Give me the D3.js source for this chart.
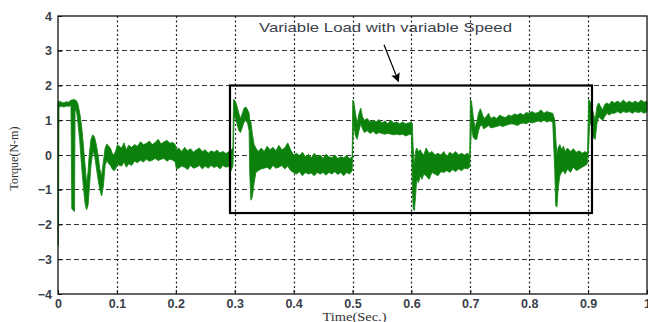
<!DOCTYPE html>
<html>
<head>
<meta charset="utf-8">
<script src="https://cdn.jsdelivr.net/npm/d3@7"></script>
<style>
  body { margin: 0; background: #fff; }
  svg { display: block; }
</style>
</head>
<body>
<svg width="648" height="322"></svg>
<script>
// time axis (sec) and the noisy torque envelope
const time = [0, 0.0008, 0.0016, 0.006, 0.010, 0.014, 0.018, 0.022, 0.0235, 0.028, 0.029, 0.032,
  0.034, 0.037, 0.040, 0.043, 0.046, 0.0485, 0.051, 0.053, 0.056, 0.059, 0.062, 0.065, 0.068, 0.071,
  0.074, 0.077, 0.080, 0.083, 0.086, 0.089, 0.092, 0.095, 0.098, 0.101, 0.104,
  0.108, 0.112, 0.116, 0.120, 0.125, 0.130, 0.135, 0.140, 0.145, 0.150, 0.155, 0.160, 0.165, 0.170,
  0.175, 0.180, 0.185, 0.190, 0.195, 0.199, 0.201, 0.205, 0.210, 0.215, 0.220, 0.225, 0.230, 0.235,
  0.240, 0.245, 0.250, 0.255, 0.260, 0.265, 0.270, 0.275, 0.280, 0.285, 0.290, 0.294, 0.297,
  0.298, 0.2985, 0.301, 0.304, 0.307, 0.310, 0.313, 0.316, 0.319, 0.322, 0.3245, 0.3255, 0.3275,
  0.330, 0.333, 0.336, 0.340, 0.345, 0.350, 0.355, 0.360, 0.365, 0.370, 0.375, 0.380, 0.385, 0.390,
  0.395, 0.400, 0.405, 0.410, 0.415, 0.420, 0.425, 0.430, 0.435, 0.440, 0.445, 0.450, 0.455, 0.460,
  0.465, 0.470, 0.475, 0.480, 0.485, 0.490, 0.495, 0.4995,
  0.5005, 0.502, 0.505, 0.508, 0.511, 0.514, 0.517, 0.520, 0.525, 0.530, 0.535, 0.540, 0.545, 0.550,
  0.555, 0.560, 0.565, 0.570, 0.575, 0.580, 0.585, 0.590, 0.595, 0.600,
  0.6015, 0.603, 0.605, 0.607, 0.609, 0.612, 0.615, 0.618, 0.621, 0.625, 0.630, 0.635, 0.640, 0.645,
  0.650, 0.655, 0.660, 0.665, 0.670, 0.675, 0.680, 0.685, 0.690, 0.695, 0.699,
  0.7003, 0.702, 0.705, 0.708, 0.711, 0.714, 0.717, 0.720, 0.723, 0.727, 0.731, 0.735, 0.740, 0.745,
  0.750, 0.755, 0.760, 0.765, 0.770, 0.775, 0.780, 0.785, 0.790, 0.795, 0.800, 0.805, 0.810, 0.815,
  0.820, 0.825, 0.830, 0.835, 0.840,
  0.8435, 0.845, 0.847, 0.849, 0.852, 0.855, 0.858, 0.861, 0.865, 0.870, 0.875, 0.880, 0.885, 0.890,
  0.895, 0.899,
  0.901, 0.903, 0.906, 0.909, 0.912, 0.915, 0.918, 0.921, 0.925, 0.928, 0.932, 0.936, 0.940, 0.945,
  0.950, 0.955, 0.960, 0.965, 0.970, 0.975, 0.980, 0.985, 0.990, 0.995, 1.000];

const torqueHigh = [1.5, 1.52, 1.55, 1.52, 1.50, 1.53, 1.52, 1.58, 1.58, 1.60, 1.58, 1.55,
  1.45, 1.2, 0.85, 0.3, -0.3, -0.8, -0.5, 0.0, 0.45, 0.58, 0.52, 0.3, 0.0, -0.4,
  -0.6, -0.2, 0.2, 0.32, 0.25, 0.2, 0.05, 0.0, 0.12, 0.3, 0.25,
  0.2, 0.35, 0.15, 0.28, 0.22, 0.3, 0.25, 0.38, 0.3, 0.33, 0.4, 0.3, 0.36, 0.45,
  0.32, 0.38, 0.42, 0.34, 0.36, 0.3, 0.15, 0.2, 0.1, 0.22, 0.12, 0.18, 0.08, 0.15,
  0.2, 0.1, 0.15, 0.05, 0.12, 0.08, 0.14, 0.06, 0.1, 0.04, 0.1, 0.15, 0.2,
  1.58, 1.6, 1.55, 1.4, 1.2, 1.05, 1.2, 1.35, 1.38, 1.3, 1.2, 1.0, 0.95,
  0.6, 0.3, 0.2, 0.1, 0.2, 0.1, 0.25, 0.15, 0.22, 0.12, 0.28, 0.15, 0.2, 0.35,
  0.15, 0.0, 0.05, -0.02, 0.08, -0.05, 0.02, -0.08, 0.05, -0.05, 0.0, -0.1, 0.02, -0.05,
  -0.08, 0.0, -0.1, -0.05, -0.08, -0.02, -0.1, -0.05,
  1.58, 1.55, 1.2, 0.9, 1.2, 1.35, 1.1, 1.0, 1.05, 0.95, 1.0, 0.95, 1.02, 0.92,
  0.98, 0.9, 1.0, 0.92, 0.95, 0.9, 0.95, 0.9, 0.92, 0.95,
  0.9, 0.2, -0.3, 0.1, 0.2, 0.1, 0.15, 0.05, 0.0, 0.2, 0.05, 0.1, 0.0, 0.05,
  0.0, 0.1, -0.05, 0.08, 0.02, 0.1, 0.0, 0.05, 0.0, 0.05, 0.0,
  1.6, 1.55, 1.1, 0.8, 0.95, 1.2, 1.33, 1.2, 1.05, 1.1, 1.2, 1.05, 1.1, 1.05,
  1.15, 1.1, 1.08, 1.15, 1.12, 1.18, 1.15, 1.2, 1.15, 1.22, 1.2, 1.25, 1.2, 1.22,
  1.3, 1.2, 1.25, 1.22, 1.2,
  1.0, 0.5, 0.0, 0.2, 0.3, 0.15, 0.25, 0.1, 0.2, 0.1, 0.18, 0.08, 0.12, 0.05,
  0.1, 0.05,
  1.6, 1.55, 1.4, 1.2, 1.0, 1.4, 1.5, 1.4, 1.3, 1.45, 1.5, 1.45, 1.55, 1.5,
  1.55, 1.5, 1.58, 1.5, 1.55, 1.5, 1.55, 1.5, 1.58, 1.52, 1.55];

const torqueLow = [-2.6, -2.6, 1.38, 1.40, 1.38, 1.41, 1.40, 1.42, -1.55, -1.63, 1.35, 1.2,
  0.9, 0.4, -0.3, -0.9, -1.4, -1.58, -1.45, -1.0, -0.3, 0.1, 0.0, -0.35, -0.7, -1.0,
  -1.18, -0.9, -0.3, -0.15, -0.25, -0.3, -0.4, -0.45, -0.4, -0.25, -0.3,
  -0.32, -0.2, -0.35, -0.25, -0.3, -0.18, -0.22, -0.15, -0.2, -0.12, -0.18, -0.15, -0.1, -0.16,
  -0.12, -0.1, -0.18, -0.12, -0.15, -0.2, -0.4, -0.38, -0.32, -0.35, -0.42, -0.3, -0.38, -0.35,
  -0.3, -0.4, -0.32, -0.38, -0.3, -0.36, -0.32, -0.4, -0.3, -0.35, -0.33, -0.45, -0.3,
  0.3, 1.0, 1.1, 0.9, 0.7, 0.65, 0.8, 0.95, 1.0, 0.9, 0.7, -0.5, -1.3,
  -1.2, -0.8, -0.5, -0.45, -0.4, -0.38, -0.35, -0.42, -0.3, -0.38, -0.35, -0.3, -0.4, -0.32,
  -0.45, -0.5, -0.55, -0.48, -0.6, -0.5, -0.55, -0.52, -0.6, -0.5, -0.55, -0.5, -0.58, -0.5,
  -0.55, -0.48, -0.56, -0.5, -0.6, -0.5, -0.55, -0.45,
  0.3, 0.9, 0.55, 0.45, 0.7, 0.9, 0.75, 0.65, 0.7, 0.62, 0.68, 0.6, 0.65, 0.62,
  0.6, 0.62, 0.6, 0.58, 0.6, 0.58, 0.6, 0.55, 0.58, 0.6,
  -0.8, -1.55, -1.6, -1.2, -0.7, -0.8, -0.6, -0.7, -0.55, -0.6, -0.7, -0.5, -0.55, -0.6,
  -0.48, -0.5, -0.45, -0.5, -0.42, -0.48, -0.4, -0.45, -0.38, -0.4, -0.35,
  0.2, 0.8, 0.5, 0.45, 0.45, 0.7, 0.85, 0.85, 0.75, 0.8, 0.85, 0.78, 0.8, 0.82,
  0.85, 0.82, 0.85, 0.88, 0.9, 0.88, 0.85, 0.9, 0.92, 0.9, 0.95, 0.92, 0.95, 0.98,
  0.95, 1.0, 0.95, 0.98, 0.95,
  -0.5, -1.45, -1.5, -1.0, -0.6, -0.5, -0.45, -0.55, -0.4, -0.5, -0.35, -0.45, -0.4, -0.35,
  -0.3, -0.25,
  0.3, 1.0, 0.8, 0.5, 0.45, 0.9, 1.1, 1.05, 1.0, 1.1, 1.2, 1.15, 1.2, 1.2,
  1.25, 1.2, 1.25, 1.22, 1.25, 1.2, 1.25, 1.22, 1.25, 1.2, 1.25];

const xTicks = [0, 0.1, 0.2, 0.3, 0.4, 0.5, 0.6, 0.7, 0.8, 0.9, 1];
const yTicks = [-4, -3, -2, -1, 0, 1, 2, 3, 4];

// box around the variable load part and the note pointing at it
const boxTime = [0.292, 0.9066];
const boxTorque = [-1.67, 2.0];
const noteText = "Variable Load with variable Speed";
const notePos = [0.556, 3.55];
const arrowFrom = [0.5535, 3.17];
const arrowTo = [0.578, 2.12];

const svg = d3.select("svg");
const margin = {top: 16, left: 58, right: 1, bottom: 28};
const w = 648, h = 322;

const x = d3.scaleLinear().domain([0, 1]).range([margin.left, w - margin.right]);
const y = d3.scaleLinear().domain([-4, 4]).range([h - margin.bottom, margin.top]);

// grid
svg.append("g").selectAll("line")
  .data(yTicks.filter(d => d > -4 && d < 4))
  .enter().append("line")
  .attr("x1", x(0)).attr("x2", x(1))
  .attr("y1", d => y(d)).attr("y2", d => y(d))
  .attr("stroke", "#333").attr("stroke-width", 1)
  .attr("stroke-dasharray", "5,3")
  .attr("shape-rendering", "crispEdges");
svg.append("g").selectAll("line")
  .data(xTicks.filter(d => d > 0 && d < 1))
  .enter().append("line")
  .attr("x1", d => Math.round(x(d)) + 0.5).attr("x2", d => Math.round(x(d)) + 0.5)
  .attr("y1", y(4)).attr("y2", y(-4))
  .attr("stroke", "#222").attr("stroke-width", 1.2)
  .attr("stroke-dasharray", "2,2.5");

// signal
const pts = time.map((t, i) => ({t: t, hi: torqueHigh[i], lo: torqueLow[i]}));
const area = d3.area()
  .x(d => x(d.t))
  .y0(d => y(d.lo))
  .y1(d => y(d.hi));
svg.append("path")
  .datum(pts)
  .attr("d", area)
  .attr("fill", "#0b800b")
  .attr("stroke", "#1a8a1a")
  .attr("stroke-width", 0.9)
  .attr("stroke-linejoin", "round");

// frame (top + left + bottom)
svg.append("rect")
  .attr("x", x(0)).attr("y", y(4))
  .attr("width", x(1) - x(0)).attr("height", y(-4) - y(4))
  .attr("fill", "none").attr("stroke", "#111").attr("stroke-width", 1.3);

// axes with inward ticks
const xAxis = d3.axisBottom(x).tickValues(xTicks).tickSize(-4).tickPadding(5)
  .tickFormat(d => d === 0 || d === 1 ? d3.format("d")(d) : d3.format(".1f")(d));
const yAxis = d3.axisLeft(y).tickValues(yTicks).tickSize(-4).tickPadding(6)
  .tickFormat(d3.format("d"));
const gx = svg.append("g").attr("transform", "translate(0," + y(-4) + ")").call(xAxis);
const gy = svg.append("g").attr("transform", "translate(" + x(0) + ",0)").call(yAxis);
[gx, gy].forEach(g => {
  g.select(".domain").remove();
  g.selectAll(".tick line").attr("stroke", "#111");
  g.selectAll("text")
    .attr("font-family", "'Liberation Sans', Arial, sans-serif")
    .attr("font-size", 12.5)
    .attr("font-weight", "bold")
    .attr("fill", "#3a3f4a");
});

// axis titles
svg.append("text")
  .attr("x", (x(0) + x(1)) / 2 + 2).attr("y", h - 1.5)
  .attr("text-anchor", "middle")
  .attr("font-family", "'Liberation Serif', 'Times New Roman', serif")
  .attr("font-size", 11.5)
  .attr("fill", "#333")
  .attr("textLength", 64)
  .attr("lengthAdjust", "spacingAndGlyphs")
  .text("Time(Sec.)");
svg.append("text")
  .attr("transform", "translate(18," + y(-0.1) + ") rotate(-90)")
  .attr("text-anchor", "middle")
  .attr("font-family", "'Liberation Serif', 'Times New Roman', serif")
  .attr("font-size", 12)
  .attr("fill", "#333")
  .text("Torque(N-m)");

// box + note + arrow
svg.append("rect")
  .attr("x", x(boxTime[0])).attr("y", y(boxTorque[1]))
  .attr("width", x(boxTime[1]) - x(boxTime[0]))
  .attr("height", y(boxTorque[0]) - y(boxTorque[1]))
  .attr("fill", "none").attr("stroke", "#000").attr("stroke-width", 2.2);

svg.append("defs").append("marker")
  .attr("id", "head").attr("viewBox", "0 0 10 10")
  .attr("refX", 9).attr("refY", 5)
  .attr("markerWidth", 9).attr("markerHeight", 9)
  .attr("markerUnits", "userSpaceOnUse")
  .attr("orient", "auto")
  .append("path").attr("d", "M0,0 L10,5 L0,10 L2,5 z").attr("fill", "#000");
svg.append("line")
  .attr("x1", x(arrowFrom[0])).attr("y1", y(arrowFrom[1]))
  .attr("x2", x(arrowTo[0])).attr("y2", y(arrowTo[1]))
  .attr("stroke", "#000").attr("stroke-width", 1.2)
  .attr("marker-end", "url(#head)");

svg.append("text")
  .attr("x", x(notePos[0])).attr("y", y(notePos[1]))
  .attr("text-anchor", "middle")
  .attr("font-family", "'Liberation Sans', Arial, sans-serif")
  .attr("font-size", 13.5)
  .attr("fill", "#3a3f4a")
  .attr("textLength", 253)
  .attr("lengthAdjust", "spacingAndGlyphs")
  .text(noteText);
</script>
</body>
</html>
